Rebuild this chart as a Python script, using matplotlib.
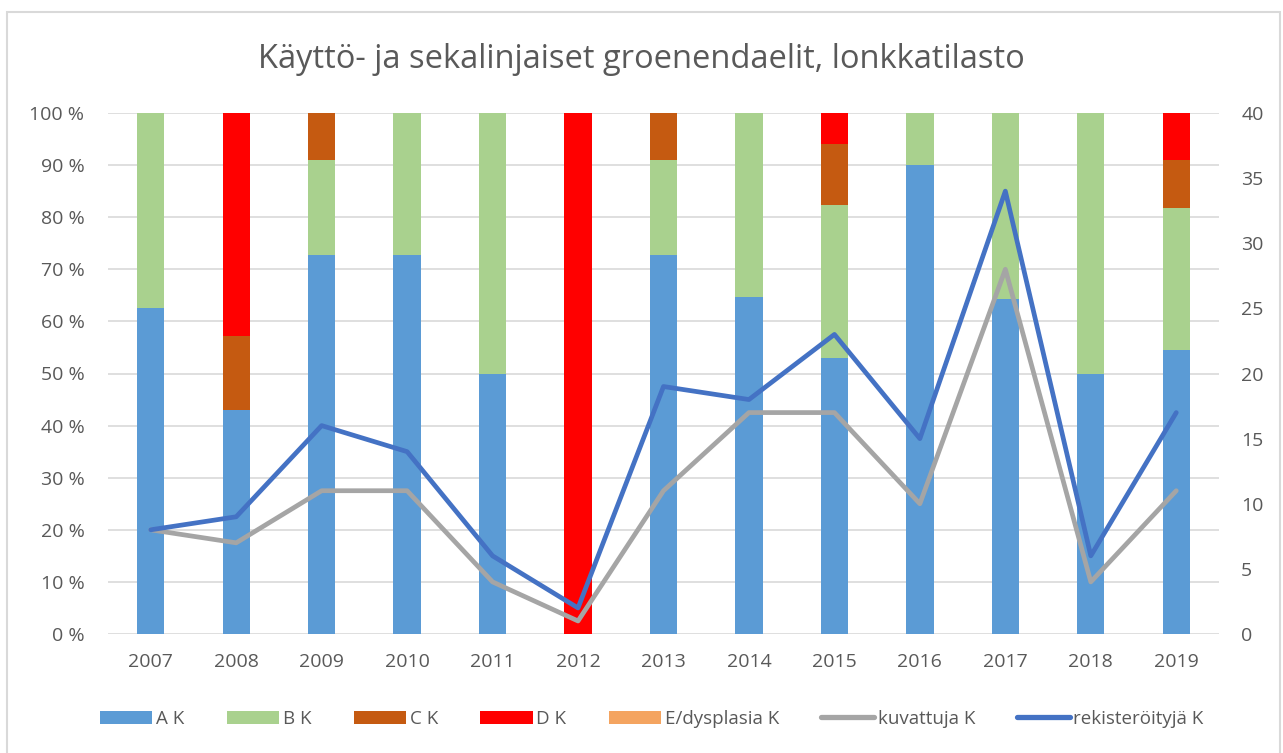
import matplotlib
matplotlib.use("Agg")
import matplotlib.pyplot as plt
from matplotlib.patches import Rectangle, Patch
from matplotlib.lines import Line2D
import numpy as np

years = ["2007", "2008", "2009", "2010", "2011", "2012", "2013",
         "2014", "2015", "2016", "2017", "2018", "2019"]
a_k = [62.5, 42.9, 72.7, 72.7, 50.0, 0.0, 72.7, 64.7, 52.9, 90.0, 64.3, 50.0, 54.5]
b_k = [37.5, 0.0, 18.2, 27.3, 50.0, 0.0, 18.2, 35.3, 29.4, 10.0, 35.7, 50.0, 27.3]
c_k = [0.0, 14.3, 9.1, 0.0, 0.0, 0.0, 9.1, 0.0, 11.8, 0.0, 0.0, 0.0, 9.1]
d_k = [0.0, 42.8, 0.0, 0.0, 0.0, 100.0, 0.0, 0.0, 5.9, 0.0, 0.0, 0.0, 9.1]
e_k = [0.0] * 13
kuvattuja = [8, 7, 11, 11, 4, 1, 11, 17, 17, 10, 28, 4, 11]
rekisteroityja = [8, 9, 16, 14, 6, 2, 19, 18, 23, 15, 34, 6, 17]

title = "Käyttö- ja sekalinjaiset groenendaelit, lonkkatilasto"
bar_labels = ["A K", "B K", "C K", "D K", "E/dysplasia K"]
line_labels = ["kuvattuja K", "rekisteröityjä K"]
bar_colors = ["#5B9BD5", "#A9D18E", "#C55A11", "#FF0000", "#F4A460"]
line_colors = ["#A5A5A5", "#4472C4"]

plt.rcParams['font.family'] = ['Open Sans', 'DejaVu Sans']
text_col = "#595959"

fig = plt.figure(figsize=(12.83, 7.53), dpi=100)
fig.patch.set_facecolor("white")
fig.add_artist(Rectangle((7 / 1283, -10 / 753), 1273 / 1283, 751 / 753,
                         transform=fig.transFigure, fill=False,
                         edgecolor="#D9D9D9", linewidth=1.5))

ax = fig.add_axes([108 / 1283, 1 - 634 / 753, 1111 / 1283, 521 / 753])
x = np.arange(len(years))
bottom = np.zeros(len(years))
for vals, col in zip([a_k, b_k, c_k, d_k, e_k], bar_colors):
    ax.bar(x, vals, bottom=bottom, width=0.32, color=col, zorder=2)
    bottom += np.array(vals)

ax.set_xlim(-0.5, len(years) - 0.5)
ax.set_ylim(0, 100)
ax.set_yticks(np.arange(0, 101, 10))
ax.set_yticklabels([f"{v} %" for v in range(0, 101, 10)])
ax.set_xticks(x)
ax.set_xticklabels(years)
ax.grid(axis="y", color="#D9D9D9", linewidth=1.2, zorder=0)
ax.set_axisbelow(True)
for s in ax.spines.values():
    s.set_visible(False)
ax.tick_params(axis="both", length=0, labelsize=14, colors=text_col)
ax.tick_params(axis="y", pad=17)
ax.tick_params(axis="x", pad=14)

ax2 = ax.twinx()
ax2.plot(x, kuvattuja, color=line_colors[0], linewidth=3.4, solid_capstyle="round", zorder=3)
ax2.plot(x, rekisteroityja, color=line_colors[1], linewidth=3.4, solid_capstyle="round", zorder=4)
ax2.set_ylim(0, 40)
ax2.set_yticks(np.arange(0, 41, 5))
for s in ax2.spines.values():
    s.set_visible(False)
ax2.tick_params(axis="y", length=0, labelsize=14, colors=text_col, pad=16)

fig.text(0.5, 1 - 60 / 753, title, ha="center", va="center",
         fontsize=23.5, color=text_col)

handles = [Patch(facecolor=c, edgecolor="none") for c in bar_colors]
handles += [Line2D([0], [0], color=c, linewidth=3.8, solid_capstyle="round") for c in line_colors]
fig.legend(handles, bar_labels + line_labels, loc="center",
           bbox_to_anchor=(0.508, 1 - 719 / 753), ncol=7, frameon=False,
           fontsize=13.5, labelcolor=text_col, handlelength=2.8,
           handleheight=0.75, handletextpad=0.2, columnspacing=2.25)

fig.savefig("out.png", dpi=100)
